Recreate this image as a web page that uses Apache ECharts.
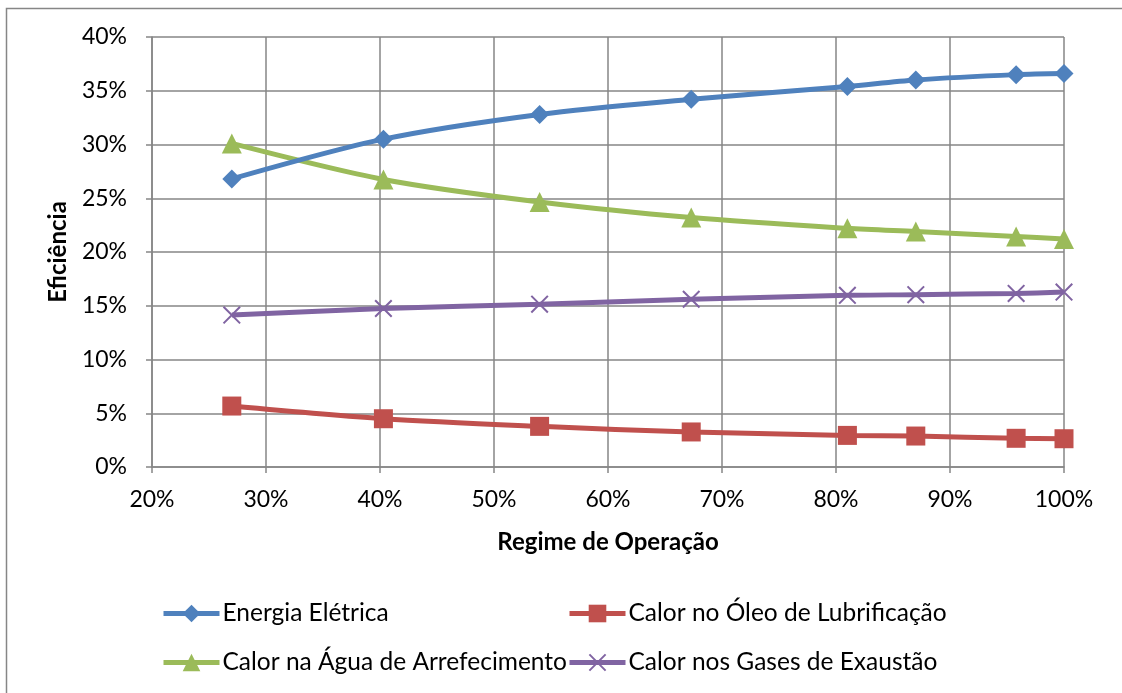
<!DOCTYPE html>
<html>
<head>
<meta charset="utf-8">
<script src="https://cdn.jsdelivr.net/npm/echarts@6/dist/echarts.min.js"></script>
<style>
  html, body { margin: 0; padding: 0; background: #fff; }
  #chart { width: 1122px; height: 693px; }
</style>
</head>
<body>
<div id="chart"></div>
<script>
// Operating load (% of rated) at each measurement
const regime = [27.0, 40.3, 54.0, 67.3, 81.0, 87.0, 95.8, 100.0];

// Efficiency shares (%) per load point
const energiaEletrica = [26.8, 30.5, 32.8, 34.2, 35.4, 36.0, 36.5, 36.6];
const calorOleo       = [5.67, 4.49, 3.78, 3.26, 2.94, 2.88, 2.67, 2.63];
const calorAgua       = [30.1, 26.75, 24.65, 23.2, 22.2, 21.9, 21.45, 21.2];
const calorGases      = [14.13, 14.75, 15.15, 15.6, 15.97, 16.03, 16.15, 16.27];

const seriesNames = [
  'Energia Elétrica',
  'Calor no Óleo de Lubrificação',
  'Calor na Água de Arrefecimento',
  'Calor nos Gases de Exaustão'
];

const xTicks = { min: 20, max: 100, step: 10 };
const yTicks = { min: 0, max: 40, step: 5 };

const FONT = 'Lato';
const FONT_SIZE = 23;
const TITLE_SIZE = 24;
const LEGEND_SIZE = 24.5;
const GRID_COLOR = '#868686';
const crossPath = 'path://M0,0.8L0.8,0L10,9.2L9.2,10Z M9.2,0L10,0.8L0.8,10L0,9.2Z';

function pairs(ys) {
  return regime.map((x, i) => [x, ys[i]]);
}

const styles = [
  { color: '#4F81BD', symbol: 'diamond', size: 19 },
  { color: '#C0504D', symbol: 'rect', size: 19 },
  { color: '#9BBB59', symbol: 'triangle', size: 20 },
  { color: '#8064A2', symbol: crossPath, size: 18 }
];
const values = [energiaEletrica, calorOleo, calorAgua, calorGases];

const series = seriesNames.map((name, i) => ({
  name: name,
  type: 'line',
  data: pairs(values[i]),
  smooth: 0.3,
  symbol: styles[i].symbol,
  symbolSize: styles[i].size,
  showAllSymbol: true,
  lineStyle: { color: styles[i].color, width: 5 },
  itemStyle: { color: styles[i].color, opacity: 1 },
  emphasis: { disabled: true },
  z: 3 + (3 - i)
}));

// one legend block per entry, laid out in a 2x2 arrangement
const legendPos = [
  { left: 161, top: 601 },
  { left: 567, top: 601 },
  { left: 161, top: 650 },
  { left: 567, top: 650 }
];
const legends = seriesNames.map((name, i) => ({
  data: [name],
  left: legendPos[i].left,
  top: legendPos[i].top,
  padding: 0,
  orient: 'horizontal',
  itemWidth: 56,
  itemHeight: 22,
  selectedMode: false,
  lineStyle: { width: 5 },
  textStyle: { fontFamily: FONT, fontSize: LEGEND_SIZE, color: '#000', padding: [0, 0, 0, -2] }
}));

const chart = echarts.init(document.getElementById('chart'), null, { renderer: 'canvas' });
chart.setOption({
  animation: false,
  backgroundColor: '#fff',
  textStyle: { fontFamily: FONT },
  grid: { left: 152, right: 58, top: 37, bottom: 226, containLabel: false },
  xAxis: {
    type: 'value',
    min: xTicks.min,
    max: xTicks.max,
    interval: xTicks.step,
    name: 'Regime de Operação',
    nameLocation: 'middle',
    nameGap: 63,
    nameTextStyle: { fontFamily: FONT, fontSize: TITLE_SIZE, fontWeight: 'bold', color: '#000' },
    axisLine: { show: true, lineStyle: { color: GRID_COLOR, width: 1.5 } },
    axisTick: { show: true, length: 6, lineStyle: { color: GRID_COLOR, width: 1.5 } },
    splitLine: { show: true, lineStyle: { color: GRID_COLOR, width: 1.5 } },
    axisLabel: { formatter: v => v + '%', fontFamily: FONT, fontSize: FONT_SIZE, color: '#000', margin: 21 }
  },
  yAxis: {
    type: 'value',
    min: yTicks.min,
    max: yTicks.max,
    interval: yTicks.step,
    name: 'Eficiência',
    nameLocation: 'middle',
    nameGap: 82,
    nameRotate: 90,
    nameTextStyle: { fontFamily: FONT, fontSize: TITLE_SIZE, fontWeight: 'bold', color: '#000' },
    axisLine: { show: true, lineStyle: { color: GRID_COLOR, width: 1.5 } },
    axisTick: { show: true, length: 6, lineStyle: { color: GRID_COLOR, width: 1.5 } },
    splitLine: { show: true, lineStyle: { color: GRID_COLOR, width: 1.5 } },
    axisLabel: { formatter: v => v + '%', fontFamily: FONT, fontSize: FONT_SIZE, color: '#000', margin: 25 }
  },
  legend: legends,
  graphic: [{
    type: 'rect',
    left: 4,
    top: 6,
    shape: { x: 0, y: 0, width: 1140, height: 720 },
    style: { fill: 'none', stroke: GRID_COLOR, lineWidth: 1.5 },
    silent: true,
    z: -1
  }],
  series: series
});
</script>
</body>
</html>
